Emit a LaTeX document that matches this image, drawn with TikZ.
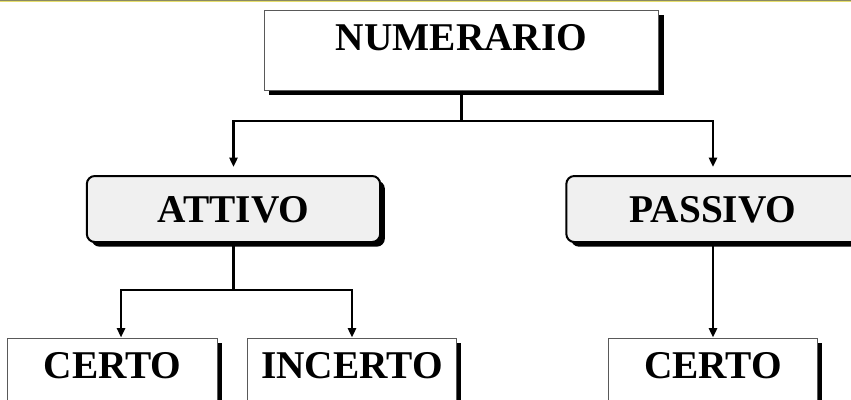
\documentclass[tikz,border=0pt]{standalone}
\usepackage{fontspec}
\setmainfont{Liberation Serif}
\usetikzlibrary{arrows.meta,shadows}
\definecolor{bandtop}{HTML}{8A8A62}
\definecolor{bandyellow}{HTML}{E6DE6E}
\definecolor{boxgray}{HTML}{F0F0F0}

\begin{document}
\begin{tikzpicture}[x=0.75pt,y=-0.75pt,
    >={Triangle[length=7pt,width=6pt]},
    wire/.style={line width=2pt, draw=black},
    box_font/.style={font=\fontsize{29.5}{35}\selectfont\bfseries},
    box_shadow/.style={drop shadow={shadow xshift=3.5pt, shadow yshift=-3.5pt, fill=black, opacity=1}},
    head_box/.style={box_font, box_shadow, draw=black!65, line width=0.75pt, fill=white,
        inner sep=0pt, minimum width=296pt, text height=30pt, text depth=30pt},
    side_box/.style={box_font, box_shadow, draw=black, line width=1.5pt, fill=boxgray,
        rounded corners=6pt, inner sep=0pt, minimum width=220pt, text height=34.5pt, text depth=15pt},
    leaf_box/.style={box_font, box_shadow, draw=black!65, line width=0.75pt, fill=white,
        inner sep=0pt, minimum width=157pt, text height=30pt, text depth=39pt}]

        \useasboundingbox (0,0) rectangle (851,400);
        \clip (0,0) rectangle (851,400);

        % band at the top
        \draw[bandtop, line width=0.75pt] (0,0.5) -- (851,0.5);
        \draw[bandyellow, line width=0.75pt] (0,1.5) -- (851,1.5);

        \node (numerario)[head_box] at (461.5,50) {NUMERARIO};

        \node (attivo)[side_box] at (233.5,209) {ATTIVO};
        \node (passivo)[side_box] at (713,209) {PASSIVO};

        \node (certo_a)[leaf_box] at (112.5,384) {CERTO};
        \node (incerto)[leaf_box] at (352,384) {INCERTO};
        \node (certo_p)[leaf_box] at (713,384) {CERTO};

        \coordinate (split_top) at (461.5,121);
        \coordinate (split_mid) at (233.5,290);

        \path (numerario) edge[wire] (split_top);
        \draw[wire,->,shorten >=6pt] (split_top) -| (attivo);
        \draw[wire,->,shorten >=6pt] (split_top) -| (passivo);
        \path (attivo) edge[wire] (split_mid);
        \draw[wire,->] (split_mid) -| ([xshift=6.4pt]certo_a.north);
        \draw[wire,->] (split_mid) -| (incerto);
        \path (passivo) edge[wire,->] (certo_p);
    \end{tikzpicture}
\end{document}
